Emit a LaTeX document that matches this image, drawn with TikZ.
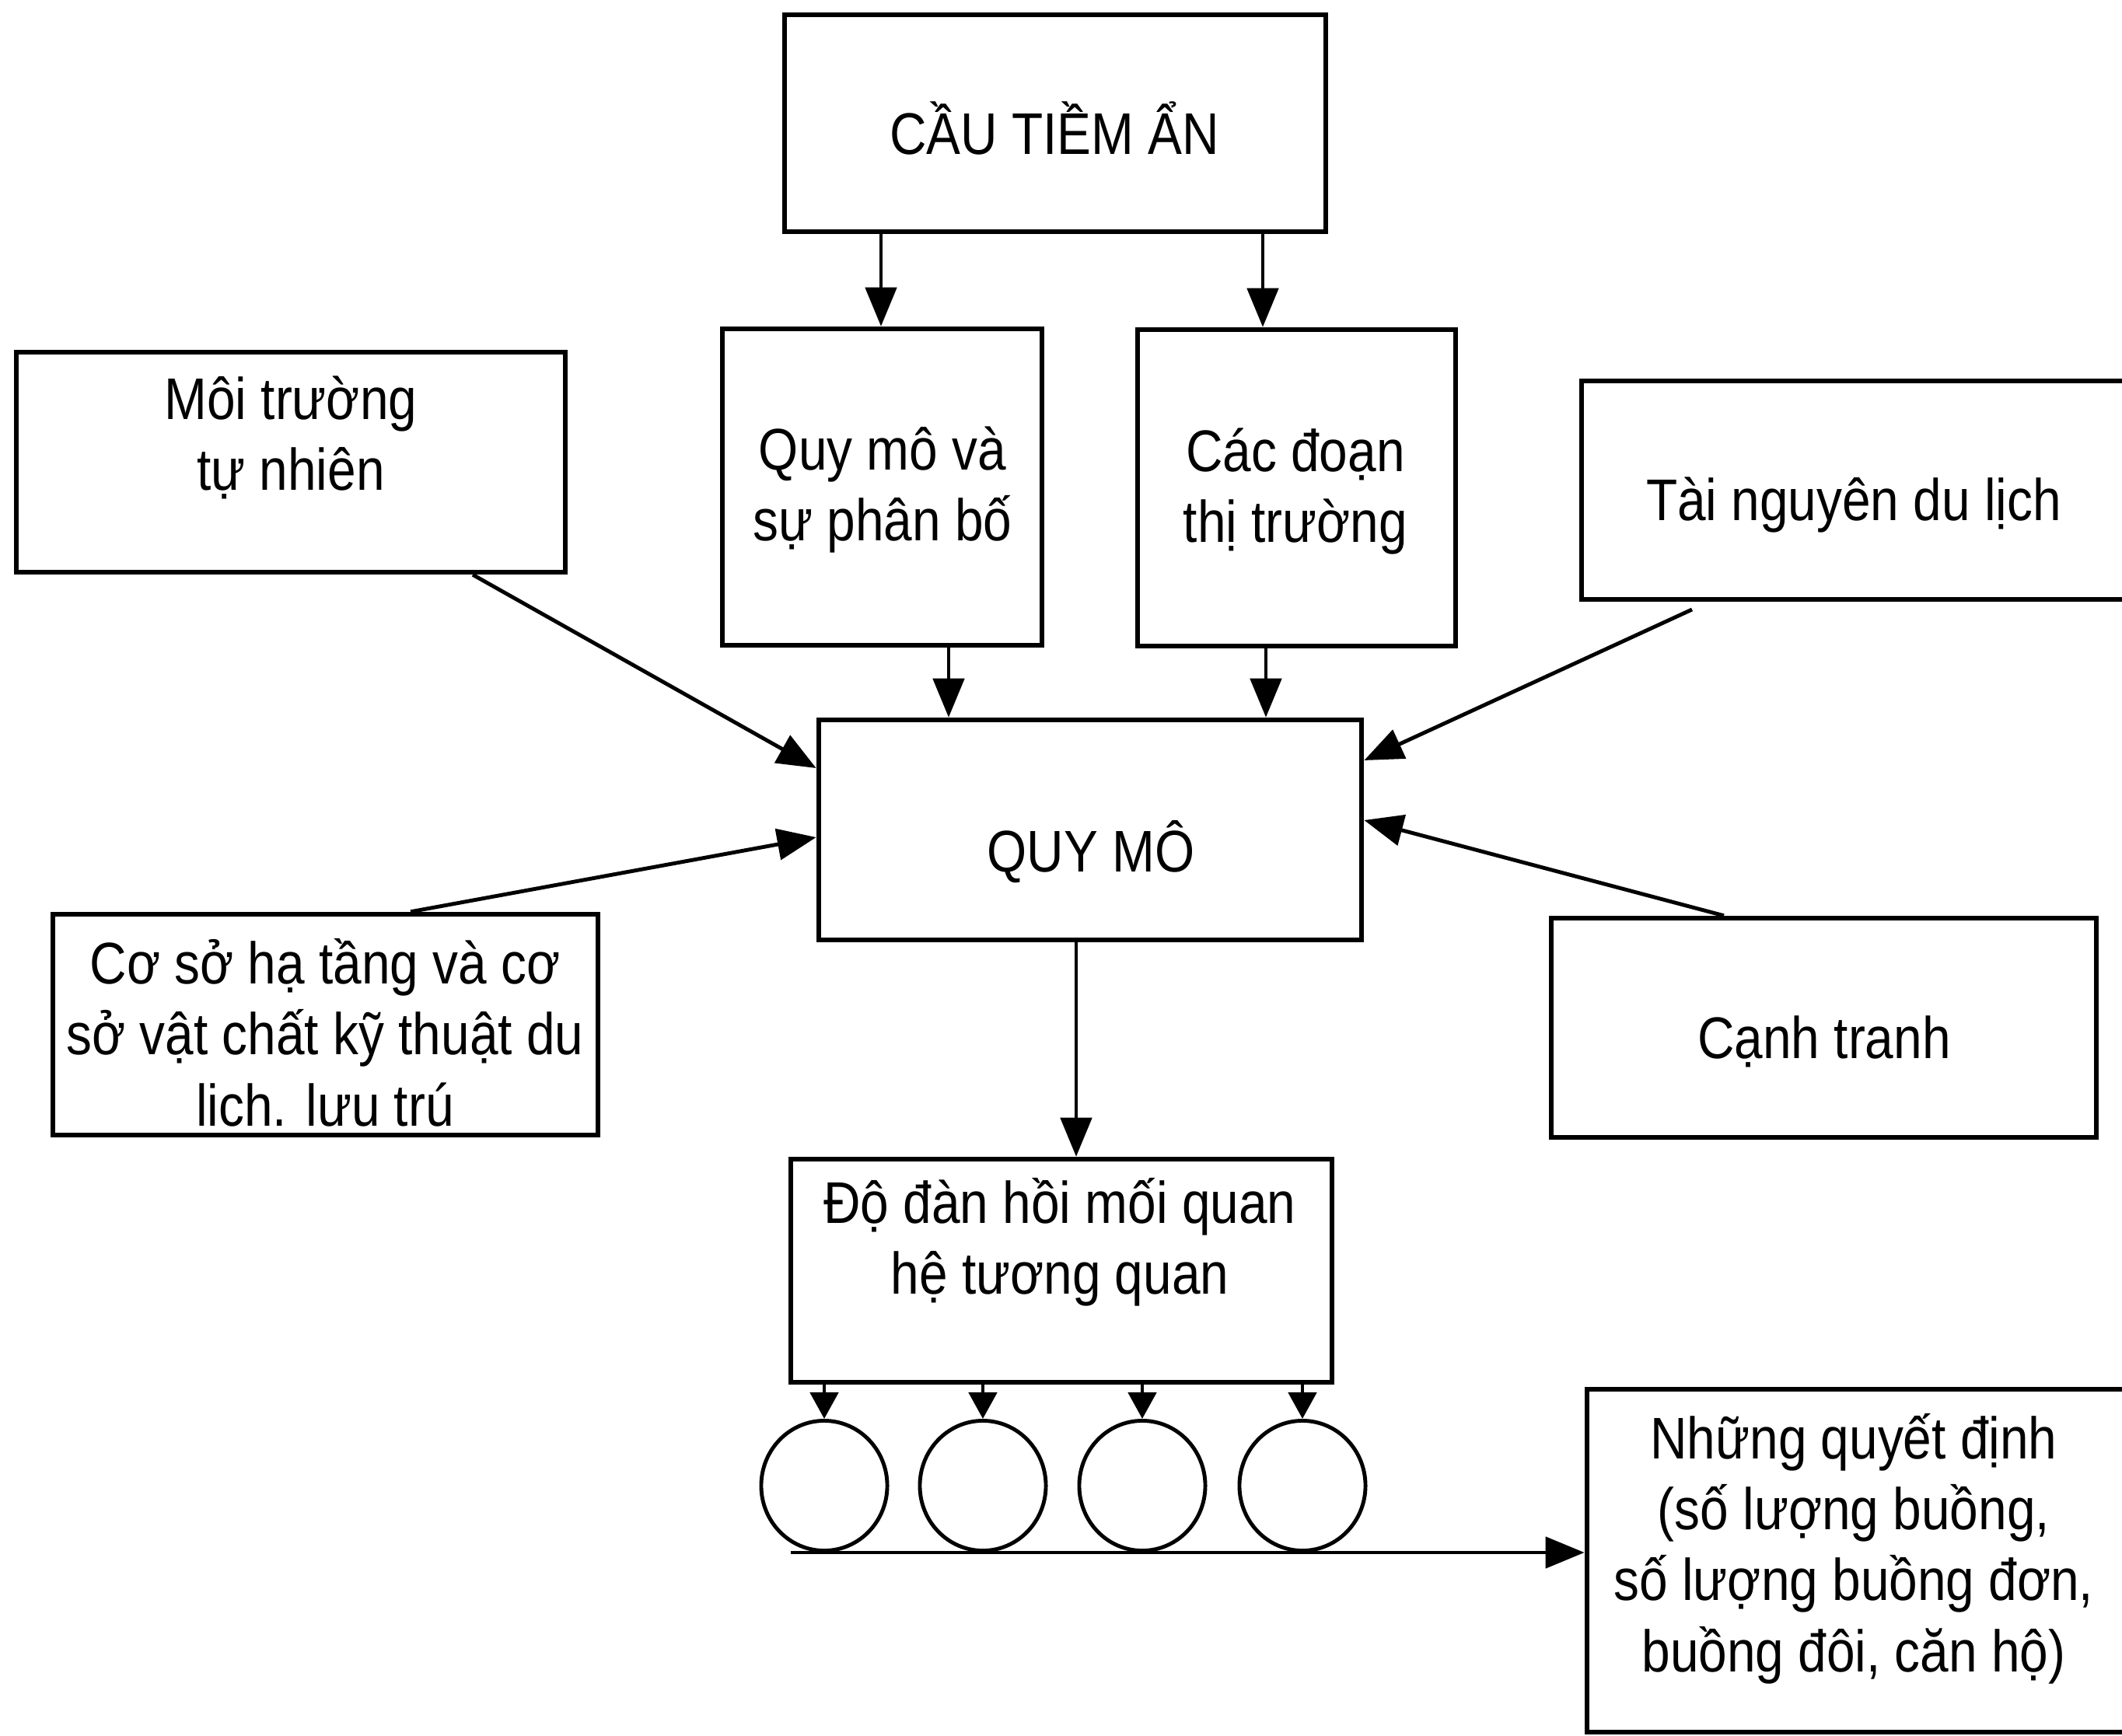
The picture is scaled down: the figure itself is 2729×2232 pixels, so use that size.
\documentclass[tikz,border=0pt]{standalone}
\usepackage{fontspec}
\setmainfont{Liberation Sans}[FakeStretch=0.87]
\usetikzlibrary{arrows.meta,shapes.geometric}

\tikzset{
  box/.style={draw, line width=1.8pt, rectangle, inner sep=0pt},
  lbl/.style={align=center, inner sep=0pt, font=\fontsize{21.5pt}{26pt}\selectfont},
  ring/.style={draw, line width=1.4pt, ellipse, inner sep=0pt,
               minimum width=1.62cm, minimum height=1.67cm},
  arr/.style={line width=1.4pt, -{Triangle[length=0.5cm, width=0.4cm]}},
  sarr/.style={line width=1.4pt, -{Triangle[length=0.34cm, width=0.36cm]}},
}

\begin{document}
\begin{tikzpicture}[x=0.01cm, y=-0.01cm]
  \clip (0,0) rectangle (2729,2232);
  \fill[white] (0,0) rectangle (2729,2232);

  % boxes
  \node[box, minimum width=6.96cm, minimum height=2.79cm] (cau)  at (1357,158.5) {};
  \node[box, minimum width=4.11cm, minimum height=4.07cm] (qmpb) at (1134.5,626.5) {};
  \node[box, minimum width=4.09cm, minimum height=4.07cm] (cdtt) at (1667.5,627.5) {};
  \node[box, minimum width=7.06cm, minimum height=2.83cm] (mt)   at (374,594.5) {};
  \node[box, minimum width=7.46cm, minimum height=2.81cm] (tn)   at (2407,630.5) {};
  \node[box, minimum width=6.98cm, minimum height=2.83cm] (qm)   at (1402,1067.5) {};
  \node[box, minimum width=7.01cm, minimum height=2.84cm] (cs)   at (418.5,1318) {};
  \node[box, minimum width=7.01cm, minimum height=2.82cm] (ct)   at (2345.5,1322) {};
  \node[box, minimum width=6.96cm, minimum height=2.87cm] (dh)   at (1365,1634.5) {};
  \node[box, minimum width=7.39cm, minimum height=4.41cm] (nqd)  at (2410.5,2007.5) {};

  % texts
  \node[lbl] (cau-t)  at (1356,165)  {CẦU TIỀM ẨN};
  \node[lbl] (mt-t)   at (374,563)   {Môi trường\\tự nhiên};
  \node[lbl] (qmpb-t) at (1135,630)  {Quy mô và\\sự phân bố};
  \node[lbl] (cdtt-t) at (1666,632)  {Các đoạn\\thị trường};
  \node[lbl] (tn-t)   at (2384,649)  {Tài nguyên du lịch};
  \node[lbl] (qm-t)   at (1403,1096) {QUY MÔ};
  \node[lbl] (cs-t)   at (418,1328)  {Cơ sở hạ tầng và cơ\\sở vật chất kỹ thuật du\\lich. lưu trú};
  \node[lbl] (ct-t)   at (2346,1340) {Cạnh tranh};
  \node[lbl] (dh-t)   at (1363,1598) {Độ đàn hồi mối quan\\hệ tương quan};
  \node[lbl] (nqd-t)  at (2384,1992) {Những quyết định\\(số lượng buồng,\\số lượng buồng đơn,\\buồng đôi, căn hộ)};

  % rings
  \node[ring] (c1) at (1060,1911) {};
  \node[ring] (c2) at (1264,1911) {};
  \node[ring] (c3) at (1469,1911) {};
  \node[ring] (c4) at (1675,1911) {};

  % free ends
  \coordinate (bl)    at (1017,1997);
  \coordinate (tnend) at (2176,784);

  % connectors
  \draw[arr] (1133,0 |- cau.south) -- (1133,0 |- qmpb.north);
  \draw[arr] (1624,0 |- cau.south) -- (1624,0 |- cdtt.north);
  \draw[arr] (1220,0 |- qmpb.south) -- (1220,0 |- qm.north);
  \draw[arr] (1628,0 |- cdtt.south) -- (1628,0 |- qm.north);
  \draw[arr] (608,0 |- mt.south) -- (qm.west |- 0,988);
  \draw[arr] (528,0 |- cs.north) -- (qm.west |- 0,1077);
  \draw[arr] (tnend) -- (qm.east |- 0,978);
  \draw[arr] (2217,0 |- ct.north) -- (qm.east |- 0,1055);
  \draw[arr] (1384,0 |- qm.south) -- (1384,0 |- dh.north);
  \foreach \c in {c1,c2,c3,c4}
    \draw[sarr] (\c.north |- dh.south) -- (\c.north);
  \draw[arr] (bl) -- (bl -| nqd.west);
\end{tikzpicture}
\end{document}
